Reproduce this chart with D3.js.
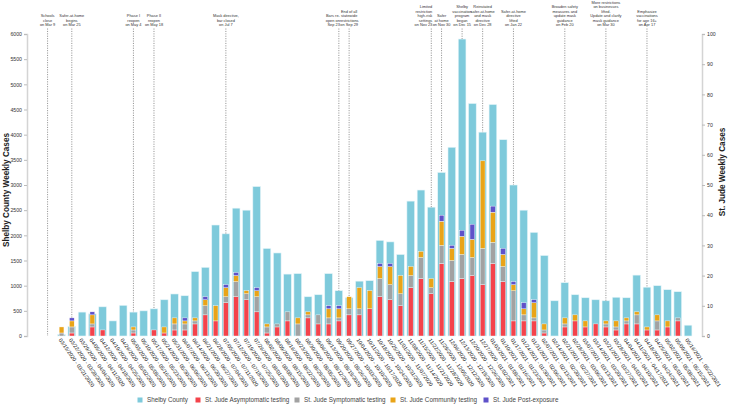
<!DOCTYPE html>
<html><head><meta charset="utf-8">
<script src="https://cdn.jsdelivr.net/npm/d3@7"></script>
<style>body{margin:0;background:#fff;} svg{display:block;font-family:"Liberation Sans",Arial,sans-serif;}</style>
</head><body><svg id="c" width="731" height="405"></svg>
<script>
const weeks = [
"03/15/2020 - 03/21/2020","03/22/2020 - 03/28/2020","03/29/2020 - 04/04/2020","04/05/2020 - 04/11/2020",
"04/12/2020 - 04/18/2020","04/19/2020 - 04/25/2020","04/26/2020 - 05/02/2020","05/03/2020 - 05/09/2020",
"05/10/2020 - 05/16/2020","05/17/2020 - 05/23/2020","05/24/2020 - 05/30/2020","05/31/2020 - 06/06/2020",
"06/07/2020 - 06/13/2020","06/14/2020 - 06/20/2020","06/21/2020 - 06/27/2020","06/28/2020 - 07/04/2020",
"07/05/2020 - 07/11/2020","07/12/2020 - 07/18/2020","07/19/2020 - 07/25/2020","07/26/2020 - 08/01/2020",
"08/02/2020 - 08/08/2020","08/09/2020 - 08/15/2020","08/16/2020 - 08/22/2020","08/23/2020 - 08/29/2020",
"08/30/2020 - 09/05/2020","09/06/2020 - 09/12/2020","09/13/2020 - 09/19/2020","09/20/2020 - 09/26/2020",
"09/27/2020 - 10/03/2020","10/04/2020 - 10/10/2020","10/11/2020 - 10/17/2020","10/18/2020 - 10/24/2020",
"10/25/2020 - 10/31/2020","11/01/2020 - 11/07/2020","11/08/2020 - 11/14/2020","11/15/2020 - 11/21/2020",
"11/22/2020 - 11/28/2020","11/29/2020 - 12/05/2020","12/06/2020 - 12/12/2020","12/13/2020 - 12/19/2020",
"12/20/2020 - 12/26/2020","12/27/2020 - 01/02/2021","01/03/2021 - 01/09/2021","01/10/2021 - 01/16/2021",
"01/17/2021 - 01/23/2021","01/24/2021 - 01/30/2021","01/31/2021 - 02/06/2021","02/07/2021 - 02/13/2021",
"02/14/2021 - 02/20/2021","02/21/2021 - 02/27/2021","02/28/2021 - 03/06/2021","03/07/2021 - 03/13/2021",
"03/14/2021 - 03/20/2021","03/21/2021 - 03/27/2021","03/28/2021 - 04/03/2021","04/04/2021 - 04/10/2021",
"04/11/2021 - 04/17/2021","04/18/2021 - 04/24/2021","04/25/2021 - 05/01/2021","05/02/2021 - 05/08/2021",
"05/09/2021 - 05/15/2021","05/16/2021 - 05/22/2021"];

const shelby = [30,190,475,440,580,300,610,475,500,540,720,835,800,1280,1365,2205,2030,2540,2500,2970,
1740,1650,1230,1240,780,820,1240,900,760,1090,1100,1900,1870,1620,2680,2900,2560,3250,3750,5900,
4620,4050,4600,3900,3000,2500,2060,1600,700,1060,820,760,720,700,770,760,1210,970,1000,920,880,215];

const asym = [0,1,0,3,2,0,0,1,0,2,1,2,2,4,7,5,11,13,12,8,1,3,5,0,6,4,4,5,7,7,9,13,12,10,16,19,14,24,18,19,
20,17,24,18,5,5,5,1,0,3,5,3,4,3,2,4,4,2,2,3,5,0];
const symp = [1,2,0,1,0,0,0,1,0,0,0,2,2,1,3,0,2,5,2,5,2,1,3,4,1,3,2,1,2,2,0,6,5,4,4,7,2,6,7,8,
6,12,7,5,10,2,1,1,0,1,0,0,0,1,1,1,3,0,3,0,1,0];
const comm = [2,2,0,3,0,0,0,1,0,0,2,2,1,1,2,5,3,2,1,2,1,0,0,2,1,0,3,3,4,7,6,4,6,6,3,2,3,8,4,6,
6,29,10,4,2,2,5,2,0,2,2,2,0,1,2,1,1,1,2,2,0,0];
const post = [0,1,0,1,0,0,0,0,0,0,0,0,1,0,1,0,1,1,0,1,0,0,0,0,0,0,1,1,0,0,0,1,1,0,0,0,0,2,1,2,
5,0,2,2,1,2,1,0,0,0,0,0,0,0,0,0,0,0,0,0,0,0];

const leftTicks = [0,500,1000,1500,2000,2500,3000,3500,4000,4500,5000,5500,6000];
const rightTicks = [0,10,20,30,40,50,60,70,80,90,100];

const seriesNames = ["Shelby County","St. Jude Asymptomatic testing","St. Jude Symptomatic testing","St. Jude Community testing","St. Jude Post-exposure"];
const colors = ["#7ecadb","#f4434b","#a2a2a2","#e9a418","#5f51c9"];

// anchor: "middle" or "end" (text placed to the left of its line)
const events = [
 {idx:-1.36, anchor:"middle", lines:["Schools","close","on Mar 9"]},
 {idx:1, anchor:"middle", lines:["Safer-at-home","begins","on Mar 25"]},
 {idx:7, anchor:"middle", lines:["Phase I","reopen","on May 4"]},
 {idx:9, anchor:"middle", lines:["Phase II","reopen","on May 18"]},
 {idx:16, anchor:"middle", lines:["Mask directive,","bar closed","on Jul 7"]},
 {idx:27, anchor:"end", lines:["Bars re-","open on","Sep 23"]},
 {idx:28, anchor:"middle", lines:["End of all","statewide","restrictions","on Sep 29"]},
 {idx:36, anchor:"end", lines:["Limited","restriction","high-risk","settings","on Nov 23"]},
 {idx:37, anchor:"middle", lines:["Safer","at home","on Nov 30"]},
 {idx:39, anchor:"middle", lines:["Shelby","vaccination","program","began","on Dec 15"]},
 {idx:41, anchor:"middle", lines:["Reinstated","safer-at-home","and mask","directive","on Dec 28"]},
 {idx:44, anchor:"middle", lines:["Safer-at-home","directive","lifted","on Jan 22"]},
 {idx:49, anchor:"middle", lines:["Broaden safety","measures and","update mask","guidance","on Feb 20"]},
 {idx:53, anchor:"middle", lines:["More restrictions","on businesses","lifted.","Update and clarify","mask guidance","on Mar 30"]},
 {idx:57, anchor:"middle", lines:["Emphasize","vaccinations","for age 16+","on Apr 17"]}
];

const svg = d3.select("#c");
const x = d3.scaleBand().domain(weeks).range([56.4, 693.2]).paddingInner(0.25).paddingOuter(0.125);
const bw = x.bandwidth();
const xIdx = d3.scaleLinear().domain([0, weeks.length-1]).range([x(weeks[0])+bw/2, x(weeks[weeks.length-1])+bw/2]);
const yL = d3.scaleLinear().domain([0,6000]).range([336,34]);
const yR = d3.scaleLinear().domain([0,100]).range([336,34]);

// axes
const axL = svg.append("g").attr("transform","translate(27,0)").call(d3.axisLeft(yL).tickValues(leftTicks).tickFormat(d3.format("d")).tickSize(3).tickPadding(2));
const axR = svg.append("g").attr("transform","translate(702,0)").call(d3.axisRight(yR).tickValues(rightTicks).tickFormat(d3.format("d")).tickSize(3).tickPadding(2));
[axL,axR].forEach(a=>{
  a.select(".domain").attr("stroke","#d4d4d4").attr("stroke-width",1.5);
  a.selectAll(".tick line").attr("stroke","#bbb");
  a.selectAll(".tick text").attr("font-size",5.2).attr("fill","#333").attr("font-family","Liberation Sans, Arial, sans-serif");
});

svg.append("text").attr("transform","translate(9,190) rotate(-90)").attr("text-anchor","middle")
  .attr("font-size",8.2).attr("font-weight","bold").attr("fill","#222").text("Shelby County Weekly Cases");
svg.append("text").attr("transform","translate(725,172) rotate(-90)").attr("text-anchor","middle")
  .attr("font-size",8.2).attr("font-weight","bold").attr("fill","#222").text("St. Jude Weekly Cases");

// Shelby bars
svg.append("g").selectAll("rect").data(weeks).join("rect")
  .attr("x",w=>x(w)).attr("width",bw)
  .attr("y",(w,i)=>yL(shelby[i])).attr("height",(w,i)=>yL(0)-yL(shelby[i]))
  .attr("fill",colors[0]).attr("stroke","#e6f5f9").attr("stroke-width",0.6);

// St Jude stacks
const sj = weeks.map((w,i)=>({w, asym:asym[i], symp:symp[i], comm:comm[i], post:post[i]}));
const keys = ["asym","symp","comm","post"];
const stack = d3.stack().keys(keys)(sj);
const sw = 4.8;
svg.append("g").selectAll("g").data(stack).join("g").attr("fill",(d,k)=>colors[k+1])
  .selectAll("rect").data(d=>d).join("rect")
  .attr("x",d=>x(d.data.w)+bw/2-sw/2).attr("width",sw)
  .attr("y",d=>yR(d[1])).attr("height",d=>yR(d[0])-yR(d[1]))
  .attr("stroke","#fff").attr("stroke-width",d=>(d[1]-d[0])>0?0.4:0);

// x labels
svg.append("g").selectAll("text").data(weeks).join("text")
  .attr("transform",w=>`translate(${x(w)+bw/2-1.5},${339}) rotate(55)`)
  .attr("font-size",5.3).attr("fill","#222").attr("text-anchor","start").attr("dy","0.35em").text(w=>w);

// events
const evG = svg.append("g");
events.forEach(ev=>{
  const cx = xIdx(ev.idx);
  let yEnd = 336;
  if (Number.isInteger(ev.idx) && ev.idx>=0 && ev.idx<weeks.length){
    const tot = asym[ev.idx]+symp[ev.idx]+comm[ev.idx]+post[ev.idx];
    yEnd = Math.min(yL(shelby[ev.idx]), yR(tot));
  }
  evG.append("line").attr("x1",cx).attr("x2",cx).attr("y1",28.5).attr("y2",yEnd)
    .attr("stroke","#8a8a8a").attr("stroke-width",0.9).attr("stroke-dasharray","1.1,1.3");
  const n = ev.lines.length;
  const tx = ev.anchor==="end" ? cx+1 : cx;
  const t = evG.append("text").attr("text-anchor",ev.anchor).attr("font-size",3.9).attr("fill","#333");
  ev.lines.forEach((l,j)=>{
    t.append("tspan").attr("x",tx).attr("y",26.3-(n-1-j)*4.5).text(l);
  });
});

// legend
const lg = svg.append("g");
const lx = [140,198,297,393,486];
seriesNames.forEach((s,i)=>{
  lg.append("rect").attr("x",lx[i]-2.5).attr("y",397.5).attr("width",5).attr("height",5).attr("fill",colors[i]);
  lg.append("text").attr("x",lx[i]+7).attr("y",400).attr("dy","0.35em").attr("font-size",6.3).attr("fill","#444").text(s);
});
</script></body></html>
